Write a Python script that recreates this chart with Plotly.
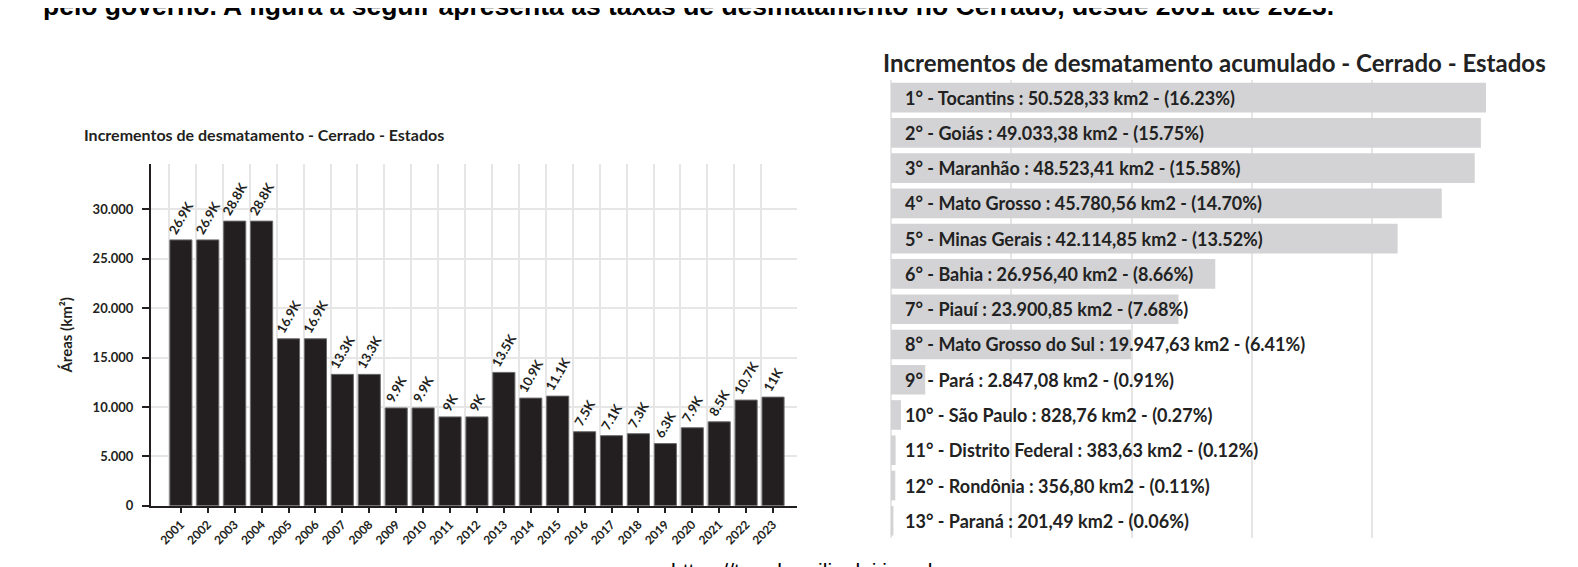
import plotly.graph_objects as go

# dados - grafico da esquerda (incrementos anuais)
years = list(range(2001, 2024))
increments = [26900, 26900, 28800, 28800, 16900, 16900, 13300, 13300, 9900, 9900,
              9000, 9000, 13500, 10900, 11100, 7500, 7100, 7300, 6300, 7900,
              8500, 10700, 11000]

# dados - grafico da direita (acumulado por estado)
states = ["Tocantins", "Goiás", "Maranhão", "Mato Grosso", "Minas Gerais", "Bahia",
          "Piauí", "Mato Grosso do Sul", "Pará", "São Paulo", "Distrito Federal",
          "Rondônia", "Paraná"]
areas = [50528.33, 49033.38, 48523.41, 45780.56, 42114.85, 26956.40, 23900.85,
         19947.63, 2847.08, 828.76, 383.63, 356.80, 201.49]
shares = [16.23, 15.75, 15.58, 14.70, 13.52, 8.66, 7.68, 6.41, 0.91, 0.27, 0.12,
          0.11, 0.06]

W, H = 1578, 567
FONT = "Lato"
DARK = "#231f20"
GRID = "#e6e6e6"


def px_x(p):
    return p / W


def px_y(p):
    return 1 - p / H


def k_label(v):
    s = f"{v / 1000:.1f}"
    if s.endswith(".0"):
        s = s[:-2]
    return s + "K"


def br_num(v):
    s = f"{v:,.2f}"
    return s.replace(",", "X").replace(".", ",").replace("X", ".")


ranks = list(range(1, len(states) + 1))
row_text = [f"{r}° - {s} : {br_num(a)} km2 - ({p:.2f}%)"
            for r, s, a, p in zip(ranks, states, areas, shares)]

fig = go.Figure()

fig.add_trace(go.Bar(
    x=years, y=increments, width=0.82,
    marker=dict(color=DARK, line=dict(color="#6a6a6a", width=1)),
    text=[k_label(v) for v in increments], textposition="outside",
    textangle=-60, constraintext="none", cliponaxis=False,
    textfont=dict(family=FONT, size=13, color=DARK, weight="bold"),
    xaxis="x", yaxis="y", showlegend=False, hoverinfo="skip",
))
# eixo vazio só para as linhas verticais da grade
fig.add_trace(go.Scatter(x=[], y=[], xaxis="x3", yaxis="y", showlegend=False))

fig.add_trace(go.Bar(
    x=areas, y=ranks, orientation="h", width=0.84,
    marker=dict(color="#d3d3d5", line=dict(width=0)),
    xaxis="x2", yaxis="y2", showlegend=False, hoverinfo="skip",
))

for r, t in zip(ranks, row_text):
    fig.add_annotation(x=0, y=r, xref="x2", yref="y2", text=t, showarrow=False,
                       xanchor="left", xshift=12,
                       font=dict(family=FONT, size=18, color="#222222", weight="bold"))

x_range = [1999.89, 2023.89]
fig.update_layout(
    width=W, height=H,
    margin=dict(l=0, r=0, t=0, b=0),
    paper_bgcolor="white", plot_bgcolor="white",
    separators=",.",
    xaxis=dict(domain=[px_x(143), px_x(789)], anchor="y", range=x_range,
               tickmode="array", tickvals=years, ticktext=[str(y) for y in years],
               tickangle=-45, showgrid=False, zeroline=False,
               showline=True, linecolor=DARK, linewidth=2,
               ticks="outside", ticklen=5, tickwidth=1.5, tickcolor=DARK,
               tickfont=dict(family=FONT, size=12, color=DARK, weight="bold")),
    xaxis3=dict(overlaying="x", anchor="y", range=x_range,
                tickmode="array", tickvals=[y - 0.44 for y in years],
                showticklabels=False, ticks="", showgrid=True, gridcolor=GRID,
                gridwidth=2, zeroline=False, showline=False),
    yaxis=dict(domain=[px_y(505), px_y(158)], anchor="x", range=[0, 34600],
               tickmode="linear", tick0=0, dtick=5000, tickformat=",d",
               showgrid=True, gridcolor=GRID, gridwidth=2, zeroline=False,
               showline=True, linecolor=DARK, linewidth=2,
               ticks="outside", ticklen=7, tickwidth=1.5, tickcolor=DARK,
               ticklabelstandoff=6,
               tickfont=dict(family=FONT, size=13, color=DARK, weight="bold"),
               title=dict(text="Áreas (km²)", standoff=16,
                          font=dict(family=FONT, size=15, color=DARK, weight="bold"))),
    xaxis2=dict(domain=[px_x(883), px_x(1478)], anchor="y2", range=[0, 49460],
                dtick=10000, showticklabels=False, ticks="",
                showgrid=True, gridcolor=GRID, gridwidth=2,
                zeroline=True, zerolinecolor=GRID, zerolinewidth=2, showline=False),
    yaxis2=dict(domain=[px_y(538), px_y(73)], anchor="x2", range=[13.5, 0.5],
                showticklabels=False, ticks="", showgrid=False, zeroline=False,
                showline=False),
)

fig.add_annotation(x=px_x(74), y=px_y(128), xref="paper", yref="paper",
                   text="Incrementos de desmatamento - Cerrado - Estados",
                   showarrow=False, xanchor="left", yanchor="middle",
                   font=dict(family=FONT, size=16, color=DARK, weight="bold"))
fig.add_annotation(x=px_x(873), y=px_y(55), xref="paper", yref="paper",
                   text="Incrementos de desmatamento acumulado - Cerrado - Estados",
                   showarrow=False, xanchor="left", yanchor="middle",
                   font=dict(family=FONT, size=24, color="#222222", weight="bold"))

# texto do documento, cortado nas bordas
fig.add_annotation(x=px_x(33), y=px_y(-2), xref="paper", yref="paper",
                   text="pelo governo. A figura a seguir apresenta as taxas de desmatamento no Cerrado, desde 2001 até 2023.",
                   showarrow=False, xanchor="left", yanchor="middle",
                   font=dict(family="Liberation Sans", size=26.5, color="black", weight="bold"))
fig.add_annotation(x=px_x(801), y=px_y(571), xref="paper", yref="paper",
                   text="https://terrabrasilis.dpi.inpe.br",
                   showarrow=False, xanchor="center", yanchor="middle",
                   font=dict(family="Liberation Sans", size=21, color="black"))

fig.write_html("out.html")
